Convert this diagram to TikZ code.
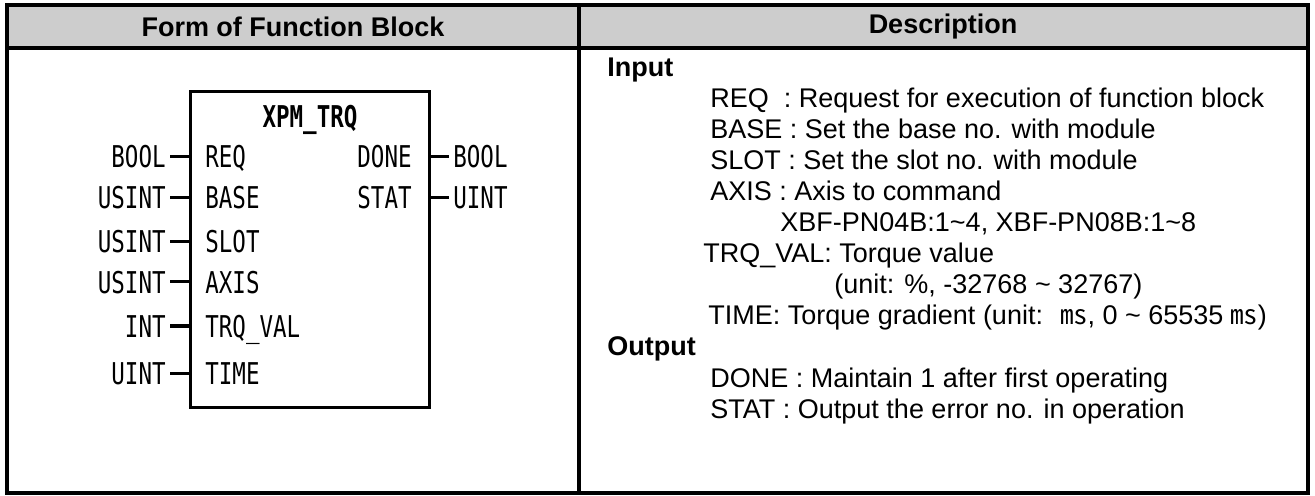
\documentclass[tikz,border=0pt]{standalone}
\usepackage{fontspec}
\setmainfont{Liberation Sans}
\newfontfamily\fbfont[FakeStretch=0.75]{DejaVu Sans Mono}
\newfontfamily\cjk{Noto Sans CJK KR}
\definecolor{headgray}{RGB}{205,205,205}

\begin{document}
\begin{tikzpicture}[x=0.5pt, y=-0.5pt,
    grid/.style={line width=2pt},
    headtext/.style={font=\fontsize{13.5}{16}\selectfont\bfseries},
    desc/.style={anchor=base west, inner sep=0pt, font=\fontsize{13.5}{16}\selectfont},
    fbtext/.style={font=\fbfont\fontsize{15}{18}\selectfont, text height=11pt, text depth=0pt},
    pinname/.style={fbtext, inner sep=0pt},
    typeleft/.style={fbtext, anchor=east, inner sep=2pt},
    typeright/.style={fbtext, anchor=west, inner sep=2pt},
    pin/.style={line width=1.5pt}]
    \useasboundingbox (0,0) rectangle (1315,496);

    % table frame
    \fill[headgray] (6.5,5.5) rectangle (1308,48);
    \draw[grid] (6.5,5.5) rectangle (1308,493);
    \draw[grid] (6.5,48) -- (1308,48);
    \draw[grid] (579,5.5) -- (579,493);
    \node[headtext] (formhead) at (293,27) {Form of Function Block};
    \node[headtext] (deschead) at (943,27) {Description};

    % function block
    \draw[line width=1.5pt] (190,92) rectangle (429,407);
    \coordinate (boxL) at (190,92);
    \coordinate (boxR) at (429,92);
    \node[fbtext, font=\fbfont\fontsize{15}{18}\selectfont\bfseries] (fbname) at (310,117) {XPM\_TRQ};

    \node[pinname, anchor=west] (req) at (205,157) {REQ};
    \node[pinname, anchor=west] (base) at (205,198) {BASE};
    \node[pinname, anchor=west] (slot) at (205,242) {SLOT};
    \node[pinname, anchor=west] (axis) at (205,282) {AXIS};
    \node[pinname, anchor=west] (trqval) at (205,326) {TRQ\_VAL};
    \node[pinname, anchor=west] (time) at (205,373) {TIME};
    \node[pinname, anchor=east] (done) at (412,157) {DONE};
    \node[pinname, anchor=east] (stat) at (412,198) {STAT};

    \node[typeleft] (reqtype) at (170,157) {BOOL};
    \node[typeleft] (basetype) at (170,198) {USINT};
    \node[typeleft] (slottype) at (170,242) {USINT};
    \node[typeleft] (axistype) at (170,282) {USINT};
    \node[typeleft] (trqtype) at (170,326) {INT};
    \node[typeleft] (timetype) at (170,373) {UINT};
    \node[typeright] (donetype) at (449,157) {BOOL};
    \node[typeright] (stattype) at (449,198) {UINT};

    \draw[pin] (reqtype) -- (reqtype -| boxL);
    \draw[pin] (basetype) -- (basetype -| boxL);
    \draw[pin] (slottype) -- (slottype -| boxL);
    \draw[pin] (axistype) -- (axistype -| boxL);
    \draw[pin] (trqtype) -- (trqtype -| boxL);
    \draw[pin] (timetype) -- (timetype -| boxL);
    \draw[pin] (donetype -| boxR) -- (donetype);
    \draw[pin] (stattype -| boxR) -- (stattype);

    % description
    \node[desc, font=\fontsize{13.5}{16}\selectfont\bfseries] (inhead) at (607,77) {Input};
    \node[desc] (reqdesc) at (710,108) {REQ\ \ : Request for execution of function block};
    \node[desc] (basedesc) at (710,139) {BASE : Set the base no. with module};
    \node[desc] (slotdesc) at (710,170) {SLOT : Set the slot no. with module};
    \node[desc] (axisdesc) at (710,201) {AXIS : Axis to command};
    \node[desc] (axisrange) at (780,232) {XBF-PN04B:1\textasciitilde4, XBF-PN08B:1\textasciitilde8};
    \node[desc] (trqdesc) at (703,263) {TRQ\_VAL: Torque value};
    \node[desc] (trqrange) at (834,294) {(unit: \%, -32768 \textasciitilde{} 32767)};
    \node[desc] (timedesc) at (708,325) {TIME: Torque gradient (unit: \ {\cjk ㎳}, 0 \textasciitilde{} 65535 {\cjk ㎳})};
    \node[desc, font=\fontsize{13.5}{16}\selectfont\bfseries] (outhead) at (607,356) {Output};
    \node[desc] (donedesc) at (710,387) {DONE : Maintain 1 after first operating};
    \node[desc] (statdesc) at (710,418) {STAT : Output the error no. in operation};
\end{tikzpicture}
\end{document}
